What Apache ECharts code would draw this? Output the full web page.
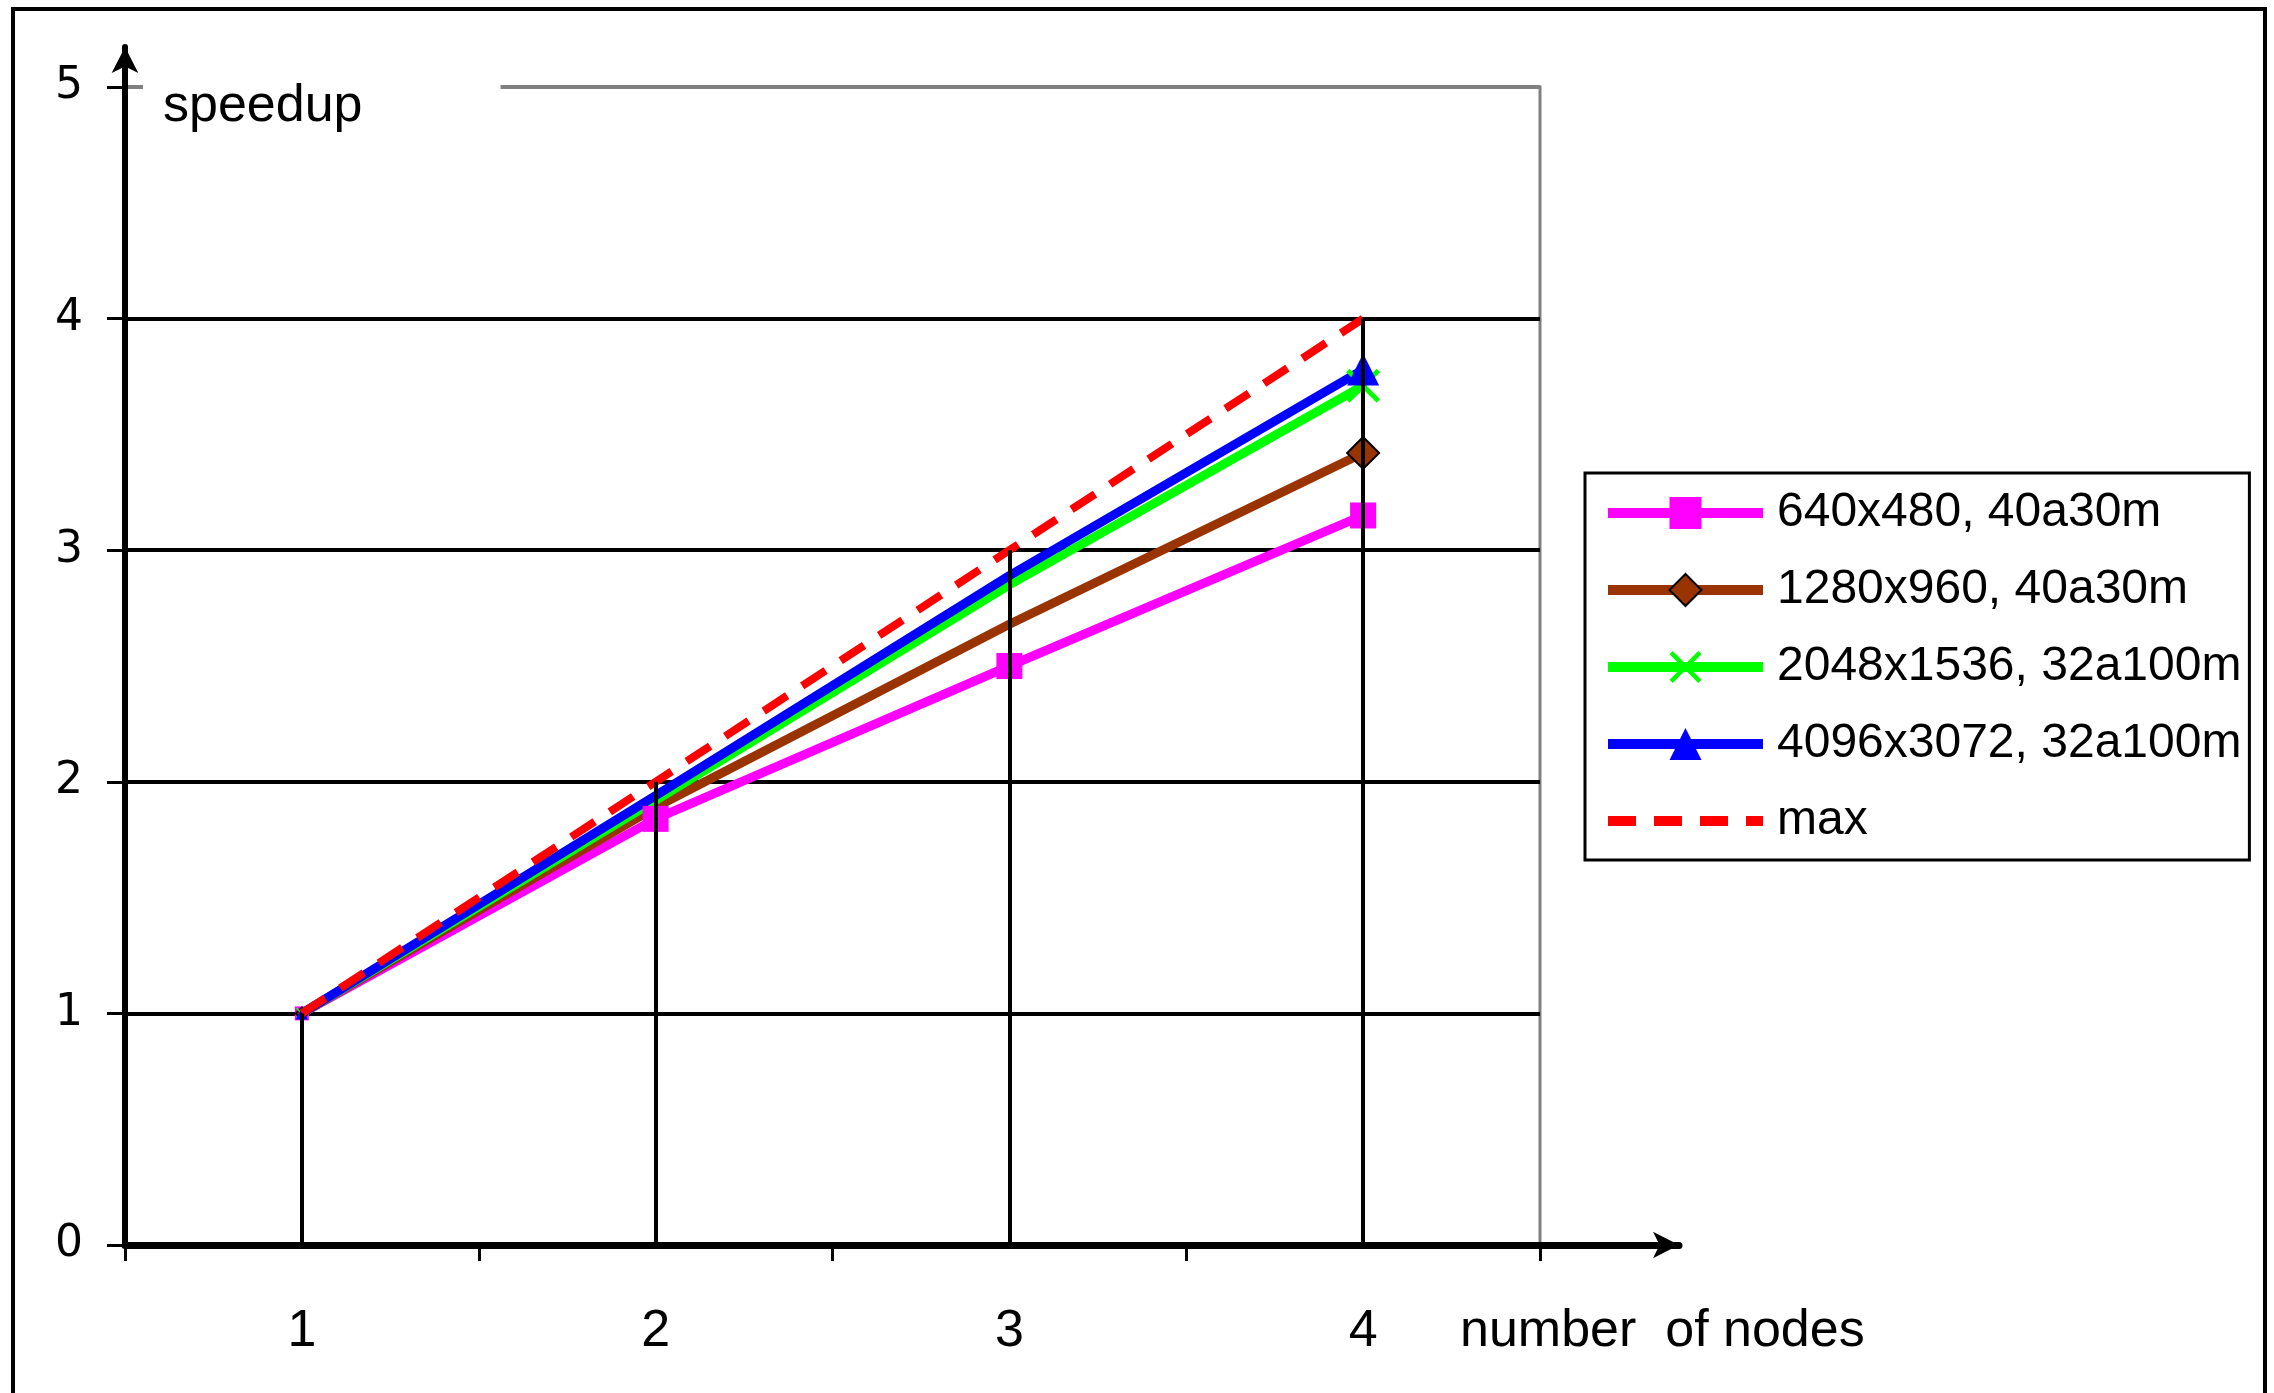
<!DOCTYPE html>
<html>
<head>
<meta charset="utf-8">
<script src="https://cdn.jsdelivr.net/npm/echarts@6/dist/echarts.min.js"></script>
<style>
  html, body { margin: 0; padding: 0; background: #fff; }
  #chart { width: 2274px; height: 1393px; }
</style>
</head>
<body>
<div id="chart"></div>
<script>
const nodes = ['1', '2', '3', '4'];
const yTicks = [0, 1, 2, 3, 4, 5];
const s640 = [1.00, 1.84, 2.50, 3.15];
const s1280 = [1.00, 1.89, 2.68, 3.42];
const s2048 = [1.00, 1.92, 2.85, 3.71];
const s4096 = [1.00, 1.94, 2.89, 3.78];
const maxSpeedup = [1, 2, 3, 4];

const names = ['640x480, 40a30m', '1280x960, 40a30m', '2048x1536, 32a100m', '4096x3072, 32a100m', 'max'];

const arial = "'Liberation Sans', Arial, sans-serif";
const crossPath = 'path://M0,1L1,0L5,4L9,0L10,1L6,5L10,9L9,10L5,6L1,10L0,9L4,5Z';

// only first/last points carry a visible marker on these series
const endsOnly = (big) => (val, p) => p.dataIndex === 0 ? 12 : (p.dataIndex === nodes.length - 1 ? big : 0);

const chart = echarts.init(document.getElementById('chart'));
chart.setOption({
    animation: false,
    backgroundColor: '#fff',
    graphic: [{
        type: 'rect',
        shape: {x: 13, y: 9, width: 2252, height: 1600},
        style: {fill: 'none', stroke: '#000', lineWidth: 4},
        silent: true
    }],
    title: [
        {
            text: 'speedup',
            left: 143, top: 66,
            padding: [15, 138, 15, 20],
            backgroundColor: '#fff',
            textStyle: {fontFamily: arial, fontSize: 52, fontWeight: 'normal', color: '#000'}
        },
        {
            text: 'number  of nodes',
            left: 1460, top: 1306,
            padding: 0,
            textStyle: {fontFamily: arial, fontSize: 52, fontWeight: 'normal', color: '#000'}
        }
    ],
    legend: {
        orient: 'vertical',
        left: 1585, top: 473,
        padding: [10, 8, 9, 18],
        itemWidth: 155,
        itemHeight: 40,
        itemGap: 17,
        borderColor: '#000',
        borderWidth: 3,
        lineStyle: {width: 10},
        data: names.slice(0, 4).concat([{name: 'max', itemStyle: {opacity: 0}}]),
        textStyle: {fontFamily: arial, fontSize: 48, lineHeight: 60, color: '#000', padding: [0, 0, 0, 9]}
    },
    grid: [
        {left: 125, top: 87, width: 1415, height: 1158, show: true, borderColor: '#808080', borderWidth: 3, backgroundColor: 'transparent'},
        {left: 125, top: 47, width: 1554, height: 1198}
    ],
    xAxis: [
        {
            type: 'category', gridIndex: 0, data: nodes, boundaryGap: true,
            axisLine: {show: false},
            axisTick: {show: true, length: 16, lineStyle: {color: '#000', width: 3}},
            axisLabel: {fontFamily: arial, fontSize: 52, color: '#000', margin: 61},
            splitLine: {show: false}
        },
        {
            type: 'value', gridIndex: 1, min: 0, max: 1,
            axisLine: {show: true, symbol: ['none', 'arrow'], symbolSize: [20, 26], lineStyle: {color: '#000', width: 7}},
            axisTick: {show: false}, axisLabel: {show: false}, splitLine: {show: false}
        }
    ],
    yAxis: [
        {
            type: 'value', gridIndex: 0, min: yTicks[0], max: yTicks[yTicks.length - 1], interval: 1,
            axisLine: {show: false},
            axisTick: {show: true, length: 18, lineStyle: {color: '#000', width: 3}},
            axisLabel: {fontFamily: "'DejaVu Sans', sans-serif", fontSize: 44, color: '#000', margin: 42},
            splitLine: {show: true, lineStyle: {color: ['#000', '#000', '#000', '#000', '#000', '#808080'], width: 4}}
        },
        {
            type: 'value', gridIndex: 1, min: 0, max: 1,
            axisLine: {show: true, symbol: ['none', 'arrow'], symbolSize: [20, 26], lineStyle: {color: '#000', width: 6}},
            axisTick: {show: false}, axisLabel: {show: false}, splitLine: {show: false}
        }
    ],
    series: [
        {
            name: 'drop', type: 'line', data: maxSpeedup, z: 1,
            symbol: 'none', lineStyle: {opacity: 0}, silent: true,
            markLine: {
                silent: true, symbol: 'none', label: {show: false},
                lineStyle: {color: '#000', width: 4, type: 'solid'},
                data: maxSpeedup.map((v, i) => [{coord: [nodes[i], v]}, {coord: [nodes[i], 0]}])
            }
        },
        {
            name: names[0], type: 'line', data: s640, z: 3,
            symbol: 'rect', symbolSize: (v, p) => p.dataIndex === 0 ? 14 : 26,
            itemStyle: {color: '#FF00FF'},
            lineStyle: {color: '#FF00FF', width: 9}
        },
        {
            name: names[1], type: 'line', data: s1280, z: 3,
            symbol: 'diamond', symbolSize: endsOnly(32),
            itemStyle: {color: '#993300', borderColor: '#000', borderWidth: 2},
            lineStyle: {color: '#993300', width: 9}
        },
        {
            name: names[2], type: 'line', data: s2048, z: 3,
            symbol: crossPath, symbolSize: endsOnly(34),
            itemStyle: {color: '#00FF00'},
            lineStyle: {color: '#00FF00', width: 9}
        },
        {
            name: names[3], type: 'line', data: s4096, z: 3,
            symbol: 'triangle', symbolSize: endsOnly(32),
            itemStyle: {color: '#0000FF'},
            lineStyle: {color: '#0000FF', width: 9}
        },
        {
            name: names[4], type: 'line', data: maxSpeedup, z: 4,
            symbol: 'circle', symbolSize: 0,
            itemStyle: {color: '#FF0000'},
            lineStyle: {color: '#FF0000', width: 8, type: [28, 18]}
        }
    ]
});
</script>
</body>
</html>
